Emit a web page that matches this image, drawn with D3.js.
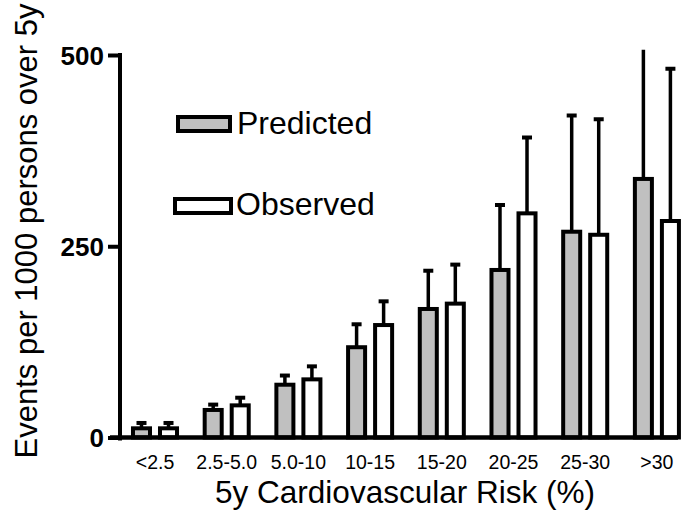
<!DOCTYPE html>
<html>
<head>
<meta charset="utf-8">
<script src="https://cdn.jsdelivr.net/npm/d3@7"></script>
<style>
  body { margin: 0; background: #fff; }
  text { font-family: "Liberation Sans", Arial, sans-serif; fill: #000; }
</style>
</head>
<body>
<script>
(function() {

	var width = 688;
	var height = 513;

	// data
	var categories = ['<2.5', '2.5-5.0', '5.0-10', '10-15', '15-20', '20-25', '25-30', '>30'];
	var series = ['Predicted', 'Observed'];
	var predicted = [12, 36, 69, 118, 168, 219, 269, 338];
	var predictedUpper = [19, 43, 81, 148, 218, 304, 421, 530];
	var observed = [12, 42, 76, 147, 175, 293, 265, 283];
	var observedUpper = [19, 52, 93, 178, 226, 392, 416, 482];
	var yTicks = [0, 250, 500];

	var fills = { Predicted: '#c0c0c0', Observed: '#ffffff' };

	var svg = d3.select('body')
		.append('svg')
			.attr('width', width)
			.attr('height', height);

	var y = d3.scaleLinear()
		.domain([0, 500])
		.range([437.5, 55]);

	var x = d3.scaleBand()
		.domain(categories)
		.range([119.15, 692.75])
		.paddingInner(0.33)
		.paddingOuter(0.165);

	var xSub = d3.scaleBand()
		.domain(series)
		.range([0, x.bandwidth()])
		.paddingInner(0.222);

	var rows = categories.map(function(c, i) {
		return [
			{ cat: c, key: 'Predicted', value: predicted[i], upper: predictedUpper[i] },
			{ cat: c, key: 'Observed', value: observed[i], upper: observedUpper[i] }
		];
	});
	var flat = d3.merge(rows);

	svg.append('clipPath')
		.attr('id', 'plotclip')
		.append('rect')
			.attr('x', 0)
			.attr('y', y(507))
			.attr('width', width)
			.attr('height', height);

	var sw = 4;

	// error bars (upward only)
	var err = svg.append('g').attr('clip-path', 'url(#plotclip)');
	flat.forEach(function(d) {
		var cx = x(d.cat) + xSub(d.key) + xSub.bandwidth() / 2;
		err.append('line')
			.attr('x1', cx).attr('x2', cx)
			.attr('y1', y(d.value)).attr('y2', y(d.upper))
			.style('stroke', '#000')
			.style('stroke-width', 3.5);
		err.append('line')
			.attr('x1', cx - 5).attr('x2', cx + 5)
			.attr('y1', y(d.upper)).attr('y2', y(d.upper))
			.style('stroke', '#000')
			.style('stroke-width', 4);
	});

	// bars
	svg.append('g')
		.selectAll('rect')
		.data(flat)
		.join('rect')
			.attr('x', function(d) { return x(d.cat) + xSub(d.key) + sw / 2; })
			.attr('y', function(d) { return y(d.value); })
			.attr('width', xSub.bandwidth() - sw)
			.attr('height', function(d) { return y(0) - y(d.value); })
			.style('fill', function(d) { return fills[d.key]; })
			.style('stroke', '#000')
			.style('stroke-width', sw);

	// y axis
	var yAxis = svg.append('g')
		.attr('transform', 'translate(120,0)')
		.call(d3.axisLeft(y).tickValues(yTicks).tickSize(12).tickSizeOuter(0).tickPadding(4));
	yAxis.select('.domain')
		.attr('d', 'M0,' + (y(500) - 2) + 'V' + (y(0) + 3))
		.style('stroke', '#000')
		.style('stroke-width', 4);
	yAxis.selectAll('.tick line')
		.style('stroke', '#000')
		.style('stroke-width', 4);
	yAxis.selectAll('.tick text')
		.attr('dy', '0.36em')
		.style('font-size', '26px')
		.style('font-weight', 'bold')
		.style('font-family', '"Liberation Sans", Arial, sans-serif')
		.style('fill', '#000');

	// x axis
	var xAxis = svg.append('g')
		.attr('transform', 'translate(0,' + y(0) + ')')
		.call(d3.axisBottom(x).tickSize(0));
	xAxis.select('.domain').remove();
	xAxis.selectAll('.tick text')
		.attr('y', 31.5)
		.attr('dy', 0)
		.style('font-size', '19.5px')
		.style('font-family', '"Liberation Sans", Arial, sans-serif')
		.style('fill', '#000');
	svg.append('line')
		.attr('x1', 110).attr('x2', 678)
		.attr('y1', y(0)).attr('y2', y(0))
		.style('stroke', '#000')
		.style('stroke-width', 4.5);

	// axis titles
	svg.append('text')
		.attr('x', 405)
		.attr('y', 503)
		.attr('text-anchor', 'middle')
		.style('font-size', '31.5px')
		.text('5y Cardiovascular Risk (%)');

	svg.append('text')
		.attr('transform', 'translate(37,231) rotate(-90)')
		.attr('text-anchor', 'middle')
		.style('font-size', '31px')
		.text('Events per 1000 persons over 5y');

	// legend
	var legend = [
		{ key: 'Predicted', x: 178, y: 117, w: 52, tx: 237, ty: 134 },
		{ key: 'Observed', x: 175, y: 199, w: 56, tx: 236, ty: 215 }
	];
	legend.forEach(function(l) {
		svg.append('rect')
			.attr('x', l.x).attr('y', l.y)
			.attr('width', l.w).attr('height', 14)
			.style('fill', fills[l.key])
			.style('stroke', '#000')
			.style('stroke-width', sw);
		svg.append('text')
			.attr('x', l.tx).attr('y', l.ty)
			.style('font-size', '32px')
			.text(l.key);
	});

})();
</script>
</body>
</html>
